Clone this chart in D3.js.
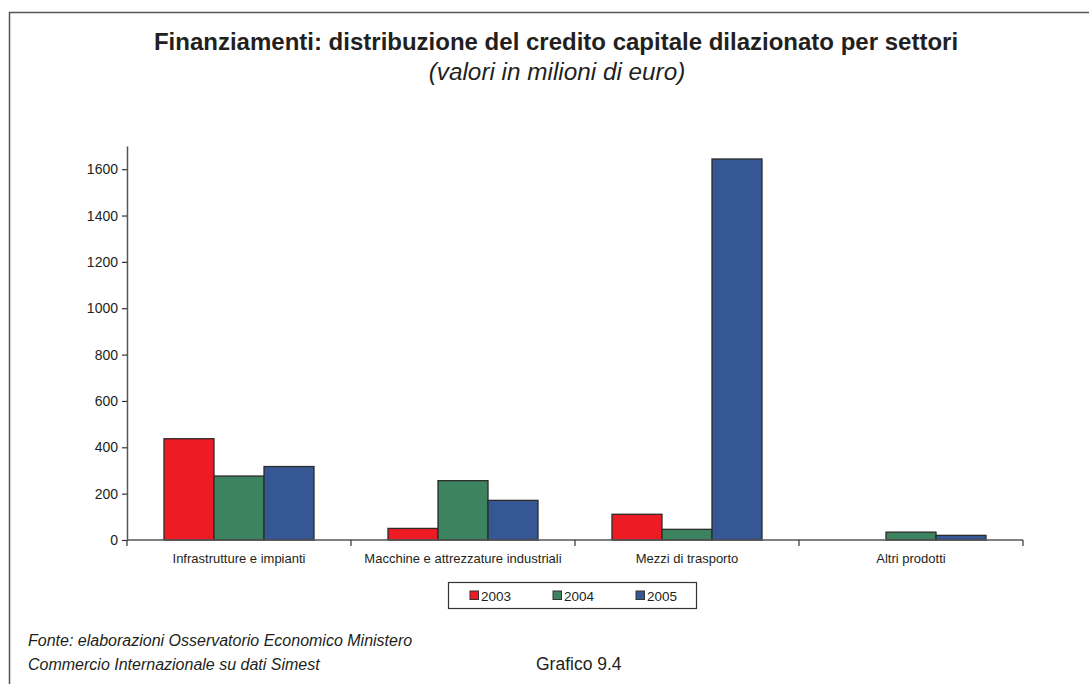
<!DOCTYPE html>
<html><head><meta charset="utf-8">
<script src="https://cdn.jsdelivr.net/npm/d3@7"></script>
<style>
html,body{margin:0;padding:0;background:#fff;}
svg text{font-family:"Liberation Sans",Arial,Helvetica,sans-serif;fill:#231f20;}
</style></head>
<body>
<svg id="chart" width="1089" height="684"></svg>
<script>
const categories = ["Infrastrutture e impianti","Macchine e attrezzature industriali","Mezzi di trasporto","Altri prodotti"];
const seriesNames = ["2003","2004","2005"];
const values2003 = [437, 50, 111, 0];
const values2004 = [276, 256, 46, 34];
const values2005 = [317, 171, 1644, 20];
const yTicks = [0,200,400,600,800,1000,1200,1400,1600];
const colors = ["#ed1c24","#3e8360","#355895"];
const titleText = "Finanziamenti: distribuzione del credito capitale dilazionato per settori";
const subtitleText = "(valori in milioni di euro)";
const sourceLines = ["Fonte: elaborazioni Osservatorio Economico Ministero","Commercio Internazionale su dati Simest"];
const figureLabel = "Grafico 9.4";

const allValues = [values2003, values2004, values2005];
const svg = d3.select("#chart");

// frame
svg.append("path").attr("d","M9.5,690 V12.5 H1095")
  .attr("fill","none").attr("stroke","#555").attr("stroke-width",1.5);

// titles
svg.append("text").attr("x",556).attr("y",50).attr("text-anchor","middle")
  .attr("font-size",24).attr("font-weight","bold").text(titleText);
svg.append("text").attr("x",557).attr("y",80).attr("text-anchor","middle")
  .attr("font-size",24.3).attr("font-style","italic").text(subtitleText);

const plotLeft = 127, plotRight = 1023, plotTop = 146, plotBottom = 540;
const x0 = d3.scaleBand().domain(categories).range([plotLeft,plotRight]).paddingInner(0).paddingOuter(0);
const x1 = d3.scaleBand().domain(seriesNames).range([0, x0.bandwidth()]).paddingInner(0).paddingOuter(0.74);
const y = d3.scaleLinear().domain([0,1700]).range([plotBottom, plotTop]);

// bars
const g = svg.append("g");
categories.forEach((c,ci)=>{
  seriesNames.forEach((s,si)=>{
    const v = allValues[si][ci];
    if (v <= 0) return;
    g.append("rect")
      .attr("x", x0(c)+x1(s))
      .attr("y", y(v))
      .attr("width", x1.bandwidth())
      .attr("height", y(0)-y(v))
      .attr("fill", colors[si])
      .attr("stroke","#2b2b2b").attr("stroke-width",1.3);
  });
});

// y axis
const yAxis = d3.axisLeft(y).tickValues(yTicks).tickFormat(d3.format("d")).tickSize(5).tickPadding(4).tickSizeOuter(0);
const ya = svg.append("g").attr("transform",`translate(${plotLeft},0)`).call(yAxis);
ya.select(".domain").attr("stroke","#555").attr("stroke-width",1.5);
ya.selectAll(".tick line").attr("stroke","#333").attr("stroke-width",1.2);
ya.selectAll(".tick text").attr("font-size",14).attr("font-family","Liberation Sans, Arial, sans-serif").attr("fill","#231f20");

// x axis
const boundaries = categories.map(c=>x0(c)).concat([plotRight]);
svg.append("line").attr("x1",plotLeft).attr("x2",plotRight).attr("y1",plotBottom).attr("y2",plotBottom)
  .attr("stroke","#555").attr("stroke-width",1.5);
svg.selectAll(".xt").data(boundaries).join("line")
  .attr("x1",d=>d).attr("x2",d=>d).attr("y1",plotBottom).attr("y2",plotBottom+6)
  .attr("stroke","#333").attr("stroke-width",1.2);
svg.selectAll(".xl").data(categories).join("text")
  .attr("x",d=>x0(d)+x0.bandwidth()/2).attr("y",563)
  .attr("text-anchor","middle").attr("font-size",13).text(d=>d);

// legend
const lg = svg.append("g");
lg.append("rect").attr("x",448.5).attr("y",582.5).attr("width",248).attr("height",26)
  .attr("fill","#fff").attr("stroke","#333").attr("stroke-width",1.2);
const legendX = d3.scalePoint().domain(seriesNames).range([470,636]);
seriesNames.forEach((s,i)=>{
  lg.append("rect").attr("x",legendX(s)).attr("y",591).attr("width",8.5).attr("height",8.5)
    .attr("fill",colors[i]).attr("stroke","#333").attr("stroke-width",1);
  lg.append("text").attr("x",legendX(s)+11).attr("y",600.5).attr("font-size",13.5).text(s);
});

// source
svg.selectAll(".src").data(sourceLines).join("text")
  .attr("x",28).attr("y",(d,i)=>646+i*24).attr("font-size",16).attr("font-style","italic").text(d=>d);
svg.append("text").attr("x",536).attr("y",670).attr("font-size",17.5).text(figureLabel);
</script>
</body></html>
